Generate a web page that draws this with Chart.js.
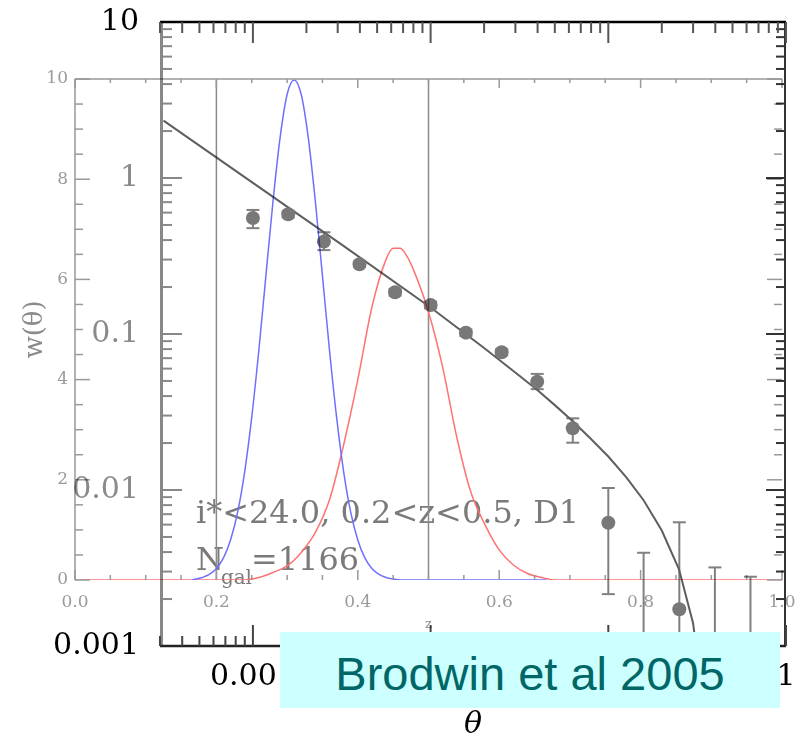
<!DOCTYPE html>
<html><head><meta charset="utf-8">
<script src="https://cdn.jsdelivr.net/npm/chart.js@4.4.1/dist/chart.umd.min.js"></script>
<style>
html,body{margin:0;padding:0;background:#fff;}
#wrap{position:relative;width:797px;height:740px;overflow:hidden;background:#fff;}
#wrap canvas{position:absolute;left:0;top:0;}
#c2{mix-blend-mode:multiply;}
#cite{position:absolute;left:280px;top:632px;width:500px;height:76px;background:#ccffff;color:#006666;
 font-family:"Liberation Sans",Arial,sans-serif;font-size:47px;line-height:84px;text-align:center;white-space:nowrap;}
</style></head>
<body>
<div id="wrap">
  <canvas id="c1" width="797" height="740"></canvas>
  <canvas id="c2" width="797" height="740"></canvas>
  <div id="cite">Brodwin et al 2005</div>
</div>
<script>
// ---------- main plot: angular correlation w(theta) (log-log) ----------
const thetaObs = [0.00100,0.00158,0.00251,0.00398,0.00631,0.0100,0.0158,0.0251,0.0398,0.0631,0.100,0.158,0.251,0.398,0.631];
const wObs     = [0.554,0.585,0.391,0.280,0.185,0.1535,0.102,0.0764,0.0494,0.0249,0.00617,null,0.00172,null,null];
const wErrHi   = [0.624,0.612,0.449,0.292,0.194,0.161,0.107,0.080,0.0555,0.0288,0.0103,0.00396,0.00621,0.00319,0.00278];
const wErrLo   = [0.477,0.558,0.345,0.268,0.176,0.146,0.097,0.073,0.0443,0.0201,0.00215,0.0001,0.0001,0.0001,0.0001];
const thetaFit = [0.000314,0.001,0.00316,0.01,0.02,0.0316,0.04,0.05,0.0631,0.0794,0.1,0.126,0.158,0.2,0.25,0.3,0.33];
const wFit     = [2.33,0.93,0.374,0.148,0.0814,0.054,0.0436,0.035,0.0276,0.0214,0.0164,0.0121,0.0086,0.0055,0.0031,0.0014,0.0006];
const xTickVals = [0.001,0.01,0.1,1];
const xTickLabels = ['0.001','0.01','0.1','1'];
const yTickVals = [0.001,0.01,0.1,1,10];
const yTickLabels = ['0.001','0.01','0.1','1','10'];
const yTickColors = ['#000','#8a8a8a','#8a8a8a','#8a8a8a','#000'];

// ---------- inset: redshift distributions (linear) ----------
const zBlue = [0.165,0.18,0.19,0.20,0.21,0.22,0.23,0.24,0.25,0.26,0.27,0.28,0.29,0.30,0.31,0.32,0.33,0.34,0.35,0.36,0.37,0.38,0.39,0.40,0.41,0.42,0.43,0.44,0.45,0.46,0.667];
const nBlue = [0,0.05,0.11,0.23,0.44,0.80,1.35,2.16,3.25,4.58,6.07,7.55,8.82,9.69,9.98,9.69,8.82,7.55,6.07,4.58,3.25,2.16,1.35,0.80,0.44,0.23,0.11,0.05,0.02,0,0];
const zRed  = [0,0.24,0.26,0.28,0.30,0.32,0.34,0.36,0.38,0.40,0.42,0.44,0.45,0.46,0.47,0.48,0.50,0.52,0.54,0.56,0.58,0.60,0.62,0.64,0.66,0.68,1.0];
const nRed  = [0,0,0.05,0.15,0.28,0.55,0.95,1.6,2.7,4.0,5.45,6.4,6.62,6.62,6.45,6.15,5.35,4.25,2.85,1.75,1.1,0.6,0.3,0.13,0.05,0,0];
const zCuts = [0.2,0.5];
const annotLine1 = 'i*<24.0, 0.2<z<0.5, D1';
const annotN = 'N', annotSub = 'gal', annotEq = '=1166';

const pts = (xs, ys) => xs.map((x,i)=>({x:x, y:ys[i]}));
const serif = '"DejaVu Serif", "Liberation Serif", serif';

function seg(ctx,x1,y1,x2,y2){ctx.beginPath();ctx.moveTo(x1,y1);ctx.lineTo(x2,y2);ctx.stroke();}
function noPad(s){s.paddingTop=0;s.paddingBottom=0;s.paddingLeft=0;s.paddingRight=0;}

const mainFrame = {
  id:'mainFrame',
  beforeDatasetsDraw(chart){
    const ctx=chart.ctx, xs=chart.scales.x, ys=chart.scales.y, a=chart.chartArea;
    ctx.save();
    ctx.beginPath(); ctx.rect(a.left,a.top,a.right-a.left,a.bottom-a.top); ctx.clip();
    ctx.strokeStyle='#808080'; ctx.lineWidth=2;
    thetaObs.forEach((t,i)=>{
      const x=xs.getPixelForValue(t), yh=ys.getPixelForValue(wErrHi[i]), yl=ys.getPixelForValue(wErrLo[i]);
      seg(ctx,x,yh,x,yl);
      seg(ctx,x-6.5,yh,x+6.5,yh);
      seg(ctx,x-6.5,yl,x+6.5,yl);
    });
    ctx.restore();
  },
  afterDraw(chart){
    const ctx=chart.ctx, xs=chart.scales.x, ys=chart.scales.y, a=chart.chartArea;
    ctx.save();
    const yMinor=[], xMinor=[];
    for(let d=-4; d<=1; d++) for(let m=2;m<=9;m++){
      const v=m*Math.pow(10,d);
      if(v>ys.min && v<ys.max) yMinor.push(v);
      if(v>xs.min && v<xs.max) xMinor.push(v);
    }
    // left axis (grey, thick)
    ctx.strokeStyle='#888'; ctx.lineWidth=3;
    seg(ctx,a.left+1.5,a.top,a.left+1.5,a.bottom);
    ctx.lineWidth=2;
    yTickVals.forEach(v=>{const y=ys.getPixelForValue(v); seg(ctx,a.left,y,a.left+22,y);});
    yMinor.forEach(v=>{const y=ys.getPixelForValue(v); seg(ctx,a.left,y,a.left+12,y);});
    // right axis
    ctx.strokeStyle='#333'; ctx.lineWidth=2;
    seg(ctx,a.right-1,a.top,a.right-1,a.bottom);
    yTickVals.forEach(v=>{const y=ys.getPixelForValue(v); seg(ctx,a.right,y,a.right-20,y);});
    yMinor.forEach(v=>{const y=ys.getPixelForValue(v); seg(ctx,a.right,y,a.right-10,y);});
    // top axis
    ctx.strokeStyle='#000'; ctx.lineWidth=2.5;
    seg(ctx,a.left,a.top,a.right,a.top);
    ctx.strokeStyle='#555'; ctx.lineWidth=2;
    xTickVals.forEach(v=>{const x=xs.getPixelForValue(v); seg(ctx,x,a.top,x,a.top+21);});
    xMinor.forEach(v=>{const x=xs.getPixelForValue(v); seg(ctx,x,a.top,x,a.top+11);});
    // bottom axis
    ctx.strokeStyle='#222'; ctx.lineWidth=2.5;
    seg(ctx,a.left,a.bottom,a.right,a.bottom);
    ctx.strokeStyle='#444'; ctx.lineWidth=2;
    xTickVals.forEach(v=>{const x=xs.getPixelForValue(v); seg(ctx,x,a.bottom,x,a.bottom-21);});
    xMinor.forEach(v=>{const x=xs.getPixelForValue(v); seg(ctx,x,a.bottom,x,a.bottom-10);});
    ctx.restore();
  }
};

new Chart(document.getElementById('c1'), {
  type:'scatter',
  data:{datasets:[
    {label:'w(theta)', data:pts(thetaObs,wObs), showLine:false, pointRadius:7, pointHoverRadius:7,
     backgroundColor:'#787878', borderWidth:0, order:0},
    {label:'fit', type:'line', data:pts(thetaFit,wFit), borderColor:'#5e5e5e', borderWidth:2,
     pointRadius:0, fill:false, tension:0, order:1}
  ]},
  options:{
    responsive:false, animation:false, events:[],
    layout:{padding:{left:0,top:22,right:11,bottom:0}},
    plugins:{legend:{display:false}, tooltip:{enabled:false}},
    scales:{
      x:{type:'logarithmic', position:'bottom', min:0.000314, max:1,
         grid:{display:false, drawTicks:false}, border:{display:false},
         afterBuildTicks:s=>{s.ticks=xTickVals.map(v=>({value:v}));},
         afterFit:s=>{s.height=94; noPad(s);},
         ticks:{autoSkip:false, maxRotation:0, padding:13, color:'#000',
                font:{family:serif, size:30}, callback:(v,i)=>xTickLabels[i]},
         title:{display:true, text:'θ', color:'#000', padding:{top:0,bottom:0},
                font:{family:serif, size:30, style:'italic', lineHeight:1}}},
      y:{type:'logarithmic', position:'left', min:0.001, max:10,
         grid:{display:false, drawTicks:false}, border:{display:false},
         afterBuildTicks:s=>{s.ticks=yTickVals.map(v=>({value:v}));},
         afterFit:s=>{s.width=160; noPad(s);},
         ticks:{autoSkip:false, padding:21, font:{family:serif, size:30},
                color:c=>yTickColors[c.index], callback:(v,i)=>yTickLabels[i]}}
    }
  },
  plugins:[mainFrame]
});

// ---------- inset ----------
const insetFrame = {
  id:'insetFrame',
  beforeDatasetsDraw(chart){
    const ctx=chart.ctx, xs=chart.scales.x, ys=chart.scales.y, a=chart.chartArea;
    ctx.save();
    ctx.fillStyle='#7a7a7a';
    ctx.textBaseline='alphabetic'; ctx.textAlign='left';
    const x0=xs.getPixelForValue(0.171);
    ctx.font='32px '+serif;
    ctx.fillText(annotLine1, x0, ys.getPixelForValue(1.14), 391);
    const y2=ys.getPixelForValue(0.2);
    ctx.fillText(annotN, x0, y2);
    const wN=ctx.measureText(annotN).width;
    ctx.font='20px '+serif;
    ctx.fillText(annotSub, x0+wN-3, y2+14);
    const wS=ctx.measureText(annotSub).width;
    ctx.font='32px '+serif;
    ctx.fillText(annotEq, x0+wN+wS-4, y2, 108);
    ctx.restore();
  },
  afterDraw(chart){
    const ctx=chart.ctx, xs=chart.scales.x, ys=chart.scales.y, a=chart.chartArea;
    ctx.save();
    ctx.strokeStyle='#999'; ctx.lineWidth=1.5;
    seg(ctx,a.left,a.top,a.left,a.bottom);
    seg(ctx,a.left,a.top,a.right,a.top);
    for(let k=0;k<=20;k++){
      const v=k*0.5, y=ys.getPixelForValue(v), major=(k%4===0);
      seg(ctx,a.left,y,a.left+(major?15:8),y);
      seg(ctx,a.right,y,a.right-(major?15:8),y);
    }
    for(let k=0;k<=20;k++){
      const v=k*0.05, x=xs.getPixelForValue(v), major=(k%4===0);
      seg(ctx,x,a.top,x,a.top+(major?9:4));
      seg(ctx,x,a.bottom,x,a.bottom-(major?10:5));
    }
    ctx.restore();
  }
};

const cutSets = zCuts.map(z=>({label:'z='+z, data:[{x:z,y:0},{x:z,y:10}], borderColor:'#8a8a8a',
  borderWidth:1.5, pointRadius:0, fill:false, order:2}));

new Chart(document.getElementById('c2'), {
  type:'line',
  data:{datasets:[
    {label:'blue', data:pts(zBlue,nBlue), borderColor:'#6f6fff', borderWidth:1.5, pointRadius:0,
     fill:false, cubicInterpolationMode:'monotone', order:0},
    {label:'red', data:pts(zRed,nRed), borderColor:'#ff7272', borderWidth:1.5, pointRadius:0,
     fill:false, cubicInterpolationMode:'monotone', order:1},
    ...cutSets
  ]},
  options:{
    responsive:false, animation:false, events:[],
    layout:{padding:{left:0,top:79,right:15,bottom:0}},
    plugins:{legend:{display:false}, tooltip:{enabled:false}},
    scales:{
      x:{type:'linear', min:0, max:1, position:'bottom',
         grid:{display:false, drawTicks:false}, border:{display:false},
         afterFit:s=>{s.height=160; noPad(s);},
         ticks:{stepSize:0.2, autoSkip:false, maxRotation:0, padding:12, color:'#9a9a9a',
                font:{family:serif, size:17}, callback:v=>Number(v).toFixed(1)},
         title:{display:true, text:'z', color:'#8a8a8a', padding:{top:0,bottom:108},
                font:{family:serif, size:13}}},
      y:{type:'linear', min:0, max:10, position:'left',
         grid:{display:false, drawTicks:false}, border:{display:false},
         afterFit:s=>{s.width=75; noPad(s);},
         ticks:{stepSize:2, padding:7, color:'#9a9a9a', font:{family:serif, size:17}},
         title:{display:true, text:'w(θ)', color:'#8a8a8a', padding:{top:20,bottom:0},
                font:{family:serif, size:26}}}
    }
  },
  plugins:[insetFrame]
});
</script>
</body></html>
